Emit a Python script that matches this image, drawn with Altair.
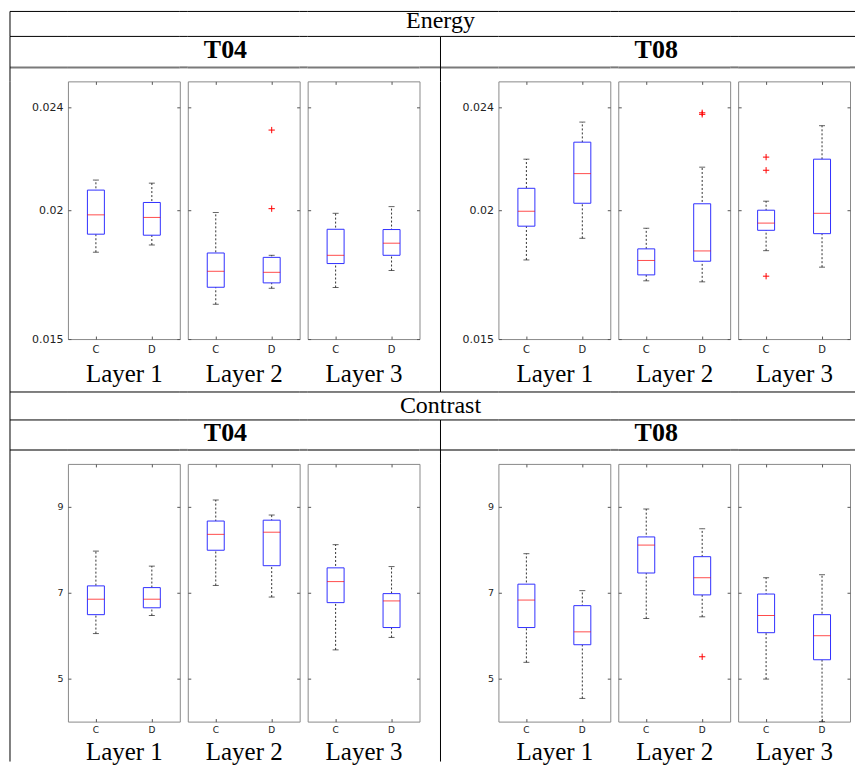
import altair as alt
import pandas as pd

GROUPS = ["C", "D"]
LAYERS = ["Layer 1", "Layer 2", "Layer 3"]
TIMES = ["T04", "T08"]
MEASURES = ["Energy", "Contrast"]

ENERGY_DOMAIN = [0.015, 0.025]
ENERGY_TICKS = [0.015, 0.02, 0.024]
CONTRAST_DOMAIN = [4, 10]
CONTRAST_TICKS = [5, 7, 9]

# order of every list: Layer1-C, Layer1-D, Layer2-C, Layer2-D, Layer3-C, Layer3-D
E_T04_WLO = [0.01837, 0.01865, 0.01635, 0.01697, 0.01700, 0.01766]
E_T04_Q1 = [0.01907, 0.01903, 0.01701, 0.01718, 0.01793, 0.01825]
E_T04_MED = [0.01982, 0.01972, 0.01763, 0.01759, 0.01825, 0.01872]
E_T04_Q3 = [0.02078, 0.02030, 0.01834, 0.01817, 0.01926, 0.01925]
E_T04_WHI = [0.02117, 0.02105, 0.01991, 0.01825, 0.01988, 0.02014]

E_T08_WLO = [0.01807, 0.01891, 0.01726, 0.01722, 0.01843, 0.01779]
E_T08_Q1 = [0.01938, 0.02027, 0.01749, 0.01802, 0.01922, 0.01909]
E_T08_MED = [0.01996, 0.02142, 0.01805, 0.01842, 0.01950, 0.01988]
E_T08_Q3 = [0.02085, 0.02264, 0.01850, 0.02025, 0.02000, 0.02198]
E_T08_WHI = [0.02198, 0.02342, 0.01930, 0.02167, 0.02035, 0.02328]

C_T04_WLO = [6.05, 6.47, 7.17, 6.90, 5.67, 5.96]
C_T04_Q1 = [6.49, 6.65, 7.99, 7.63, 6.77, 6.19]
C_T04_MED = [6.85, 6.85, 8.36, 8.41, 7.26, 6.81]
C_T04_Q3 = [7.16, 7.12, 8.67, 8.69, 7.58, 6.98]
C_T04_WHI = [7.97, 7.62, 9.16, 8.81, 8.12, 7.61]

C_T08_WLO = [5.38, 4.54, 6.40, 6.44, 4.99, 4.00]
C_T08_Q1 = [6.19, 5.79, 7.46, 6.95, 6.07, 5.44]
C_T08_MED = [6.83, 6.09, 8.11, 7.35, 6.47, 6.00]
C_T08_Q3 = [7.20, 6.70, 8.30, 7.84, 6.97, 6.49]
C_T08_WHI = [7.91, 7.05, 8.95, 8.49, 7.35, 7.42]

OUT_MEASURE = ["Energy", "Energy", "Energy", "Energy", "Energy", "Energy", "Energy", "Contrast"]
OUT_TIME = ["T04", "T04", "T08", "T08", "T08", "T08", "T08", "T08"]
OUT_LAYER = ["Layer 2", "Layer 2", "Layer 2", "Layer 2", "Layer 3", "Layer 3", "Layer 3", "Layer 2"]
OUT_GROUP = ["D", "D", "D", "D", "C", "C", "C", "D"]
OUT_VALUE = [0.02311, 0.02006, 0.02372, 0.02378, 0.02206, 0.02155, 0.01744, 5.51]

STATS = {
    ("Energy", "T04"): (E_T04_WLO, E_T04_Q1, E_T04_MED, E_T04_Q3, E_T04_WHI),
    ("Energy", "T08"): (E_T08_WLO, E_T08_Q1, E_T08_MED, E_T08_Q3, E_T08_WHI),
    ("Contrast", "T04"): (C_T04_WLO, C_T04_Q1, C_T04_MED, C_T04_Q3, C_T04_WHI),
    ("Contrast", "T08"): (C_T08_WLO, C_T08_Q1, C_T08_MED, C_T08_Q3, C_T08_WHI),
}

rows = []
for (m, t), (wlo, q1, med, q3, whi) in STATS.items():
    for i in range(6):
        rows.append(dict(measure=m, time=t, layer=LAYERS[i // 2], group=GROUPS[i % 2],
                         wlo=wlo[i], q1=q1[i], med=med[i], q3=q3[i], whi=whi[i]))
BOX = pd.DataFrame(rows)
OUT = pd.DataFrame(dict(measure=OUT_MEASURE, time=OUT_TIME, layer=OUT_LAYER,
                        group=OUT_GROUP, value=OUT_VALUE))

FRAME = "#8a8a8a"
TICK = "#555555"
PLUS = "M-1,0L1,0M0,-1L0,1"
ONE = pd.DataFrame({"a": [0]})

# table grid: column widths (px); columns 0 and 7 carry the table's vertical lines
COLS = [58, 112, 8, 112, 8, 112, 21, 58, 112, 8, 112, 8, 112, 5]
PANEL_COLS = {1: ("T04", "Layer 1", True), 3: ("T04", "Layer 2", False),
              5: ("T04", "Layer 3", False), 8: ("T08", "Layer 1", True),
              10: ("T08", "Layer 2", False), 12: ("T08", "Layer 3", False)}


def panel(m, t, layer, first):
    d = BOX[(BOX.measure == m) & (BOX.time == t) & (BOX.layer == layer)]
    o = OUT[(OUT.measure == m) & (OUT.time == t) & (OUT.layer == layer)]
    energy = m == "Energy"
    dom = ENERGY_DOMAIN if energy else CONTRAST_DOMAIN
    ticks = ENERGY_TICKS if energy else CONTRAST_TICKS
    xs = alt.Scale(domain=GROUPS, paddingInner=0, paddingOuter=0)
    ys = alt.Scale(domain=dom, nice=False, zero=False)
    common = dict(domain=False, grid=False, tickSize=3, offset=-3, tickColor=TICK, tickWidth=1)
    x_axis = alt.Axis(orient="bottom", title=layer, labelAngle=0,
                      labelPadding=5 if energy else 4,
                      labelFont="DejaVu Sans", labelFontSize=10 if energy else 9,
                      labelColor="#222222", titleFont="Liberation Serif", titleFontSize=25,
                      titleFontWeight="normal", titleColor="black",
                      titlePadding=7 if energy else 5, **common)
    y_axis = alt.Axis(orient="left", title=None, values=ticks, format=".3~f", labels=first,
                      labelPadding=5, labelFont="DejaVu Sans",
                      labelFontSize=11 if energy else 9.5, labelColor="#222222",
                      minExtent=0, maxExtent=60, **common)
    x_top = alt.Axis(orient="top", title=None, labels=False, **common)
    y_right = alt.Axis(orient="right", title=None, values=ticks, labels=False,
                       minExtent=0, maxExtent=0, **common)
    xn = alt.X("group:N", scale=xs, axis=None)
    base = alt.Chart(d)
    whisk = base.mark_rule(color="#333333", strokeDash=[2, 2], strokeWidth=1).encode(
        x=alt.X("group:N", scale=xs, axis=x_axis),
        y=alt.Y("wlo:Q", scale=ys, axis=y_axis), y2="whi:Q")
    cap_lo = base.mark_tick(color="#222222", size=6, thickness=1, orient="horizontal").encode(
        x=xn, y=alt.Y("wlo:Q", scale=ys, axis=None))
    cap_hi = base.mark_tick(color="#222222", size=6, thickness=1, orient="horizontal").encode(
        x=xn, y=alt.Y("whi:Q", scale=ys, axis=None))
    box = base.mark_bar(size=17, fill="white", stroke="#3030ff", strokeWidth=1).encode(
        x=xn, y=alt.Y("q1:Q", scale=ys, axis=None), y2="q3:Q")
    med = base.mark_tick(color="red", size=17, thickness=1, orient="horizontal").encode(
        x=xn, y=alt.Y("med:Q", scale=ys, axis=None))
    frame = base.mark_point(opacity=0).encode(
        x=alt.X("group:N", scale=xs, axis=x_top),
        y=alt.Y("med:Q", scale=ys, axis=y_right))
    layers = [whisk, cap_lo, cap_hi, box, med]
    if len(o):
        layers.append(alt.Chart(o).mark_point(shape=PLUS, size=40, filled=False, color="red",
                                              strokeWidth=1, opacity=1).encode(
            x=xn, y=alt.Y("value:Q", scale=ys, axis=None)))
    layers.append(frame)
    return alt.layer(*layers).resolve_axis(x="independent", y="independent").properties(
        width=112, height=258, view=alt.ViewBackground(stroke=FRAME, strokeWidth=1))


def rule_h(w, y, color="black", sw=1):
    return alt.Chart(ONE).mark_rule(color=color, strokeWidth=sw).encode(
        x=alt.value(0), x2=alt.value(w), y=alt.value(y))


def rule_v(h):
    return alt.Chart(ONE).mark_rule(color="black", strokeWidth=1).encode(
        x=alt.value(0), y=alt.value(0), y2=alt.value(h))


def blank(h):
    return alt.Chart(ONE).mark_rule(opacity=0, strokeWidth=0).encode(
        x=alt.value(0), y=alt.value(0), y2=alt.value(h))


def label(text, x, y, size, bold):
    df = pd.DataFrame({"label": [text]})
    return alt.Chart(df).mark_text(font="Liberation Serif", fontSize=size,
                                   fontWeight="bold" if bold else "normal",
                                   align="center", baseline="middle", color="black").encode(
        text="label:N", x=alt.value(x), y=alt.value(y))


def cell(w, h, parts):
    if not parts:
        parts = [blank(h)]
    return alt.layer(*parts).properties(width=w, height=h)


def banner_row(text, h, ty):
    out = []
    for c, w in enumerate(COLS):
        parts = [rule_h(w, 0)]
        if c == 0:
            parts.append(rule_v(h))
        if c == 7:
            parts.append(label(text, 0, ty, 24, False))
        out.append(cell(w, h, parts))
    return out


def time_row(h, thick_y, ty):
    out = []
    for c, w in enumerate(COLS):
        parts = [rule_h(w, 0), rule_h(w, thick_y, "#7a7a7a", 2)]
        if c in (0, 7):
            parts.append(rule_v(h))
        if c == 3:
            parts.append(label("T04", 37.7, ty, 26, True))
        if c == 10:
            parts.append(label("T08", 38, ty, 26, True))
        out.append(cell(w, h, parts))
    return out


def panel_row(m, h):
    out = []
    for c, w in enumerate(COLS):
        if c in PANEL_COLS:
            t, layer, first = PANEL_COLS[c]
            out.append(panel(m, t, layer, first))
        elif c in (0, 7):
            out.append(cell(w, h, [rule_v(h)]))
        else:
            out.append(cell(w, 1, []))
    return out


cells = (banner_row("Energy", 25, 9.5) + time_row(45, 31, 13.5) + panel_row("Energy", 311)
         + banner_row("Contrast", 28, 14) + time_row(44, 30, 13) + panel_row("Contrast", 298))

chart = alt.concat(*cells, columns=len(COLS), spacing=0, bounds="flush", align="each").properties(
    padding=0
).configure_view(stroke="transparent")

chart.save("out.html", embed_options={"renderer": "svg", "actions": False})
